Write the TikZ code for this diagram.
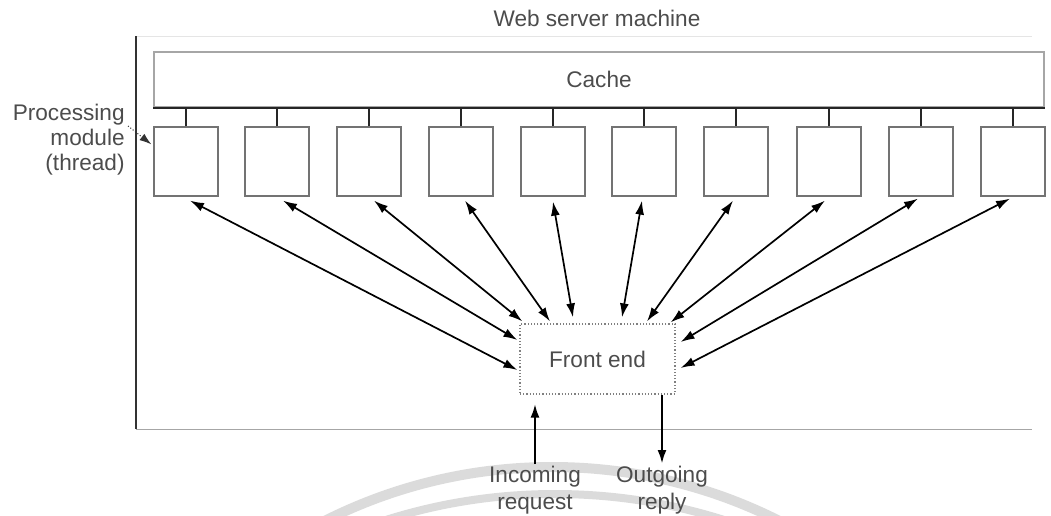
\documentclass[tikz,border=0pt]{standalone}
\usepackage{fontspec}
\setmainfont{Liberation Sans}
\usetikzlibrary{arrows.meta}
\begin{document}
\begin{tikzpicture}[x=0.5pt,y=-0.5pt,
  txt/.style={font=\fontsize{11.3}{12.5}\selectfont, text=black!70},
  module/.style={draw=black!55, line width=0.6pt, minimum width=32pt,
    minimum height=34.5pt, inner sep=0pt},
  link/.style={draw=black!85, line width=0.9pt},
  dbl/.style={draw=black, line width=0.85pt, {Latex[length=7pt,width=4.5pt]}-{Latex[length=7pt,width=4.5pt]}},
  io/.style={draw=black, line width=1.3pt, -{Latex[length=7pt,width=4.5pt]}},
  seal/.style={draw=black!14}
]
\useasboundingbox (0,0) rectangle (1051,515);

% faint stamp arcs along the lower edge
\begin{scope}
  \clip (0,0) rectangle (1051,515);
  \draw[seal, line width=5pt] (552,972) circle [radius=252.5pt];
  \draw[seal, line width=4pt] (555,1054) circle [radius=280pt];
\end{scope}

% machine frame
\draw[black!10, line width=0.5pt] (136,36) -- (1032,36);
\draw[black!80, line width=0.6pt] (136,36) -- (136,429);
\draw[black!35, line width=0.5pt] (136,429) -- (1032,429);
\node[txt] (title) at (597,18) {Web server machine};

% shared cache
\node[txt, draw=black!35, line width=0.6pt, minimum width=445pt,
  minimum height=27.5pt, inner sep=0pt] (cache) at (599,79.5) {Cache};
\draw[link] (cache.south west) -- (cache.south east);

% processing modules (threads)
\foreach \i/\x in {1/186,2/277,3/369,4/461,5/553,6/644,7/736,8/829,9/921,10/1013}{
  \node[module] (b\i) at (\x,161.5) {};
  \draw[link] (b\i.north) -- (b\i.north |- cache.south);
}

\node[txt, align=right, anchor=east, inner sep=0pt] (lbl) at (125,140)
  {Processing\\module\\(thread)};
\draw[black!80, line width=0.5pt, densely dotted, -{Latex[length=6pt,width=4pt]}]
  ([shift={(3,-14)}]lbl.east) -- ([shift={(-2,18)}]b1.north west);

% front end
\node[txt, draw=black!50, line width=0.6pt, densely dotted, minimum width=77.5pt,
  minimum height=35pt, inner sep=0pt] (fe) at (597.5,359) {Front end};

\draw[dbl] ([shift={(4,4)}]b1.south)  -- ([shift={(-2,11)}]fe.west);
\draw[dbl] ([shift={(6,4)}]b2.south)  -- ([shift={(-2,-19)}]fe.west);
\draw[dbl] ([shift={(5,4)}]b3.south)  -- ([shift={(3,-2)}]fe.north west);
\draw[dbl] ([shift={(4,4)}]b4.south)  -- ([shift={(-47.5,-2)}]fe.north);
\draw[dbl] ([shift={(0,5)}]b5.south)  -- ([shift={(-24.5,-6)}]fe.north);
\draw[dbl] ([shift={(-2,4)}]b6.south) -- ([shift={(24.5,-6)}]fe.north);
\draw[dbl] ([shift={(-3,4)}]b7.south) -- ([shift={(49.5,-2)}]fe.north);
\draw[dbl] ([shift={(-4,4)}]b8.south) -- ([shift={(-5,-1)}]fe.north east);
\draw[dbl] ([shift={(-3,2)}]b9.south) -- ([shift={(5,-17)}]fe.east);
\draw[dbl] ([shift={(-3,2)}]b10.south) -- ([shift={(5,9)}]fe.east);

% request and reply
\node[txt, align=center, anchor=north, inner sep=1pt,
  font=\fontsize{11.3}{13.5}\selectfont] (inl) at (535,464) {Incoming\\request};
\node[txt, align=center, anchor=north, inner sep=1pt,
  font=\fontsize{11.3}{13.5}\selectfont] (outl) at (662,464) {Outgoing\\reply};
\draw[io, shorten >=4.5pt] (inl.north) -- (inl.north |- fe.south);
\draw[io] (outl.north |- fe.south) -- (outl.north);
\end{tikzpicture}
\end{document}
